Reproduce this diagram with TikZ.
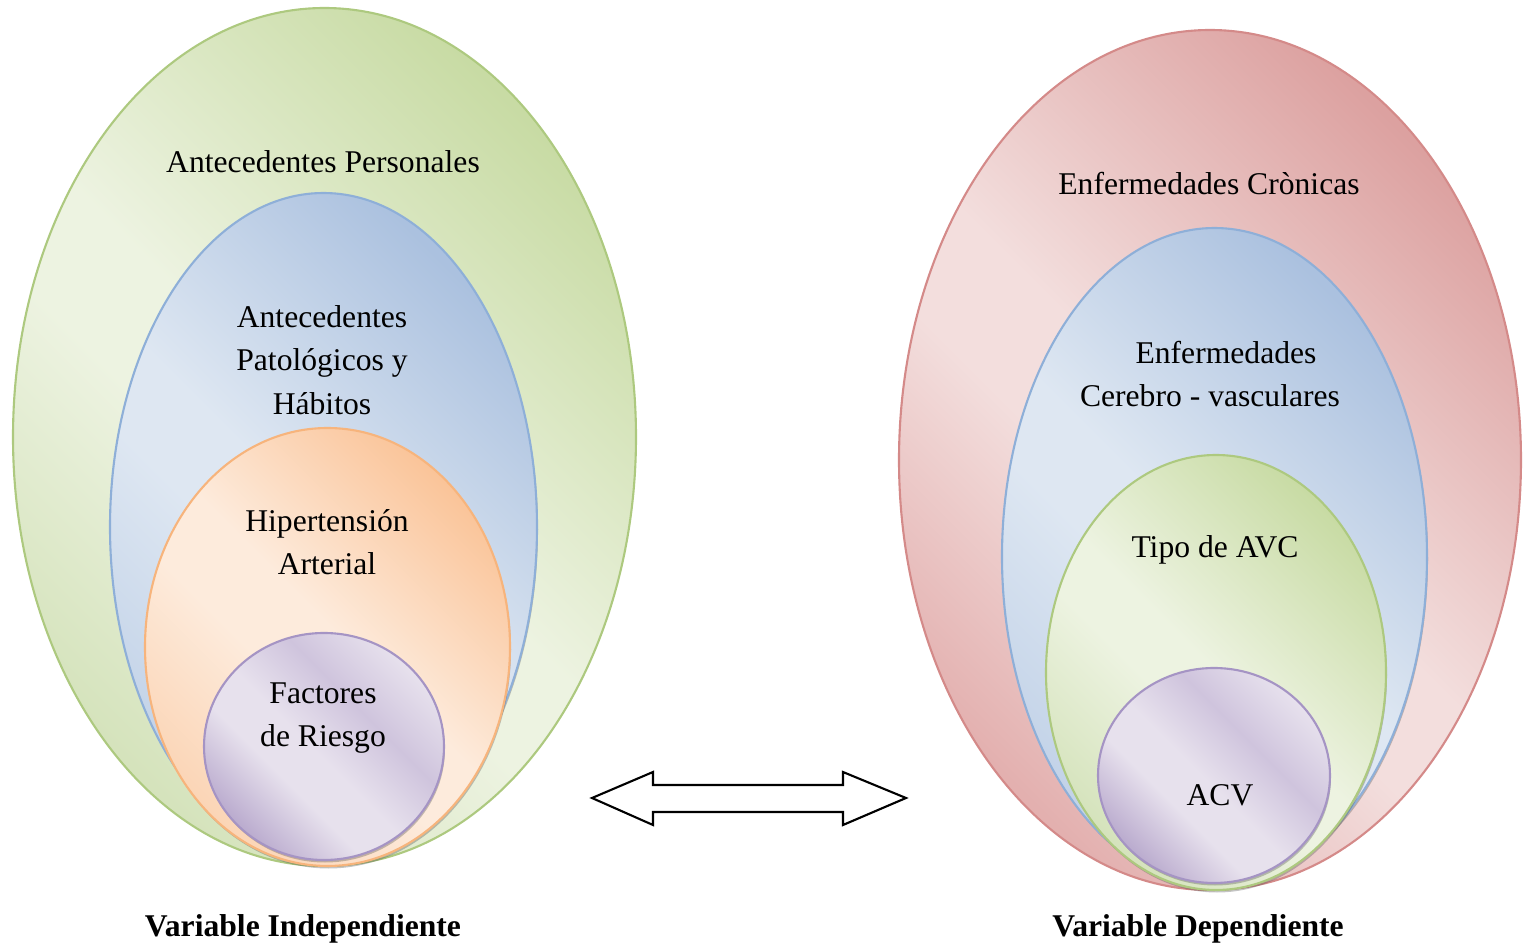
\documentclass[tikz,border=0pt]{standalone}
\usepackage{fontspec}
\setmainfont{Liberation Serif}
% colours
\definecolor{gl}{HTML}{EDF3E1}\definecolor{gm}{HTML}{D5E3BC}\definecolor{gd}{HTML}{C8DBA4}\definecolor{gs}{HTML}{ADC97F}
\definecolor{bl}{HTML}{DEE7F2}\definecolor{bm}{HTML}{C3D3E8}\definecolor{bd}{HTML}{ABC1DF}\definecolor{bs}{HTML}{8EAFD8}
\definecolor{ol}{HTML}{FDEBDC}\definecolor{om}{HTML}{FBD5B6}\definecolor{od}{HTML}{FAC499}\definecolor{os}{HTML}{F7B47C}
\definecolor{pl}{HTML}{E7E1ED}\definecolor{pm}{HTML}{CFC4DD}\definecolor{pd}{HTML}{BAABCE}\definecolor{ps}{HTML}{A594C4}
\definecolor{rl}{HTML}{F3DEDD}\definecolor{rm}{HTML}{E3B0AF}\definecolor{rd}{HTML}{DCA1A0}\definecolor{rs}{HTML}{D48A89}
\definecolor{shc}{HTML}{555555}
\pgfdeclarehorizontalshading{greensh}{100bp}{color(0bp)=(gm); color(25bp)=(gm); color(43bp)=(gl); color(50bp)=(gl); color(75bp)=(gd); color(100bp)=(gd)}
\pgfdeclarehorizontalshading{bluesh}{100bp}{color(0bp)=(bm); color(25bp)=(bm); color(43bp)=(bl); color(50bp)=(bl); color(75bp)=(bd); color(100bp)=(bd)}
\pgfdeclarehorizontalshading{orangesh}{100bp}{color(0bp)=(om); color(25bp)=(om); color(43bp)=(ol); color(52bp)=(ol); color(75bp)=(od); color(100bp)=(od)}
\pgfdeclarehorizontalshading{purplesh}{100bp}{color(0bp)=(pd); color(25bp)=(pd); color(39bp)=(pl); color(48bp)=(pl); color(61bp)=(pm); color(75bp)=(pl); color(100bp)=(pl)}
\pgfdeclarehorizontalshading{redsh}{100bp}{color(0bp)=(rm); color(25bp)=(rm); color(43bp)=(rl); color(50bp)=(rl); color(75bp)=(rd); color(100bp)=(rd)}
\tikzset{
  ell/.style={line width=0.6pt, shading angle=45},
  shadowell/.style={fill=shc, opacity=0.35},
  lbl/.style={font=\fontsize{9}{12.3}\selectfont, align=center, inner sep=0pt},
  varlbl/.style={font=\fontsize{9}{11}\selectfont\bfseries, inner sep=0pt},
  arrowshape/.style={draw=black, line width=0.6pt, fill=white, line join=miter}
}
\begin{document}
\begin{tikzpicture}
\useasboundingbox (0,0) rectangle (15.26,9.46);
% ---------- left side ----------
\shade[shading=greensh, draw=gs, ell] (3.245,5.09) ellipse [x radius=3.115, y radius=4.29];
\fill[shadowell] (3.245,4.165) ellipse [x radius=2.135, y radius=3.34];
\shade[shading=bluesh, draw=bs, ell] (3.235,4.19) ellipse [x radius=2.135, y radius=3.34];
\fill[shadowell] (3.285,2.965) ellipse [x radius=1.825, y radius=2.19];
\shade[shading=orangesh, draw=os, ell] (3.275,2.99) ellipse [x radius=1.825, y radius=2.19];
\fill[shadowell] (3.25,1.97) ellipse [x radius=1.20, y radius=1.135];
\shade[shading=purplesh, draw=ps, ell] (3.24,1.995) ellipse [x radius=1.20, y radius=1.135];
% ---------- right side ----------
\shade[shading=redsh, draw=rs, ell] (12.10,4.86) ellipse [x radius=3.11, y radius=4.30];
\fill[shadowell] (12.155,3.87) ellipse [x radius=2.125, y radius=3.285];
\shade[shading=bluesh, draw=bs, ell] (12.145,3.895) ellipse [x radius=2.125, y radius=3.285];
\fill[shadowell] (12.17,2.71) ellipse [x radius=1.70, y radius=2.175];
\shade[shading=greensh, draw=gs, ell] (12.16,2.735) ellipse [x radius=1.70, y radius=2.175];
\fill[shadowell] (12.15,1.68) ellipse [x radius=1.16, y radius=1.075];
\shade[shading=purplesh, draw=ps, ell] (12.14,1.705) ellipse [x radius=1.16, y radius=1.075];
% ---------- double arrow ----------
\draw[arrowshape] (5.92,1.48) -- (6.53,1.74) -- (6.53,1.61) -- (8.43,1.61) -- (8.43,1.74)
  -- (9.06,1.48) -- (8.43,1.21) -- (8.43,1.34) -- (6.53,1.34) -- (6.53,1.21) -- cycle;
% ---------- labels ----------
\node[lbl] (ap)  at (3.23,7.84) {Antecedentes Personales};
\node[lbl] (aph) at (3.22,5.86) {Antecedentes\\Patológicos y\\Hábitos};
\node[lbl] (ha)  at (3.27,4.04) {Hipertensión\\Arterial};
\node[lbl] (fr)  at (3.23,2.28) {Factores\\de Riesgo};
\node[lbl] (ec)  at (12.09,7.62) {Enfermedades Crònicas};
\node[lbl] (ecv) at (12.10,5.72) {\hspace*{0.32cm}Enfermedades\\Cerebro - vasculares};
\node[lbl] (avc) at (12.15,3.96) {Tipo de AVC};
\node[lbl] (acv) at (12.20,1.51) {ACV};
\node[varlbl] (vi) at (3.03,0.17) {Variable Independiente};
\node[varlbl] (vd) at (11.98,0.17) {Variable Dependiente};
\end{tikzpicture}
\end{document}
